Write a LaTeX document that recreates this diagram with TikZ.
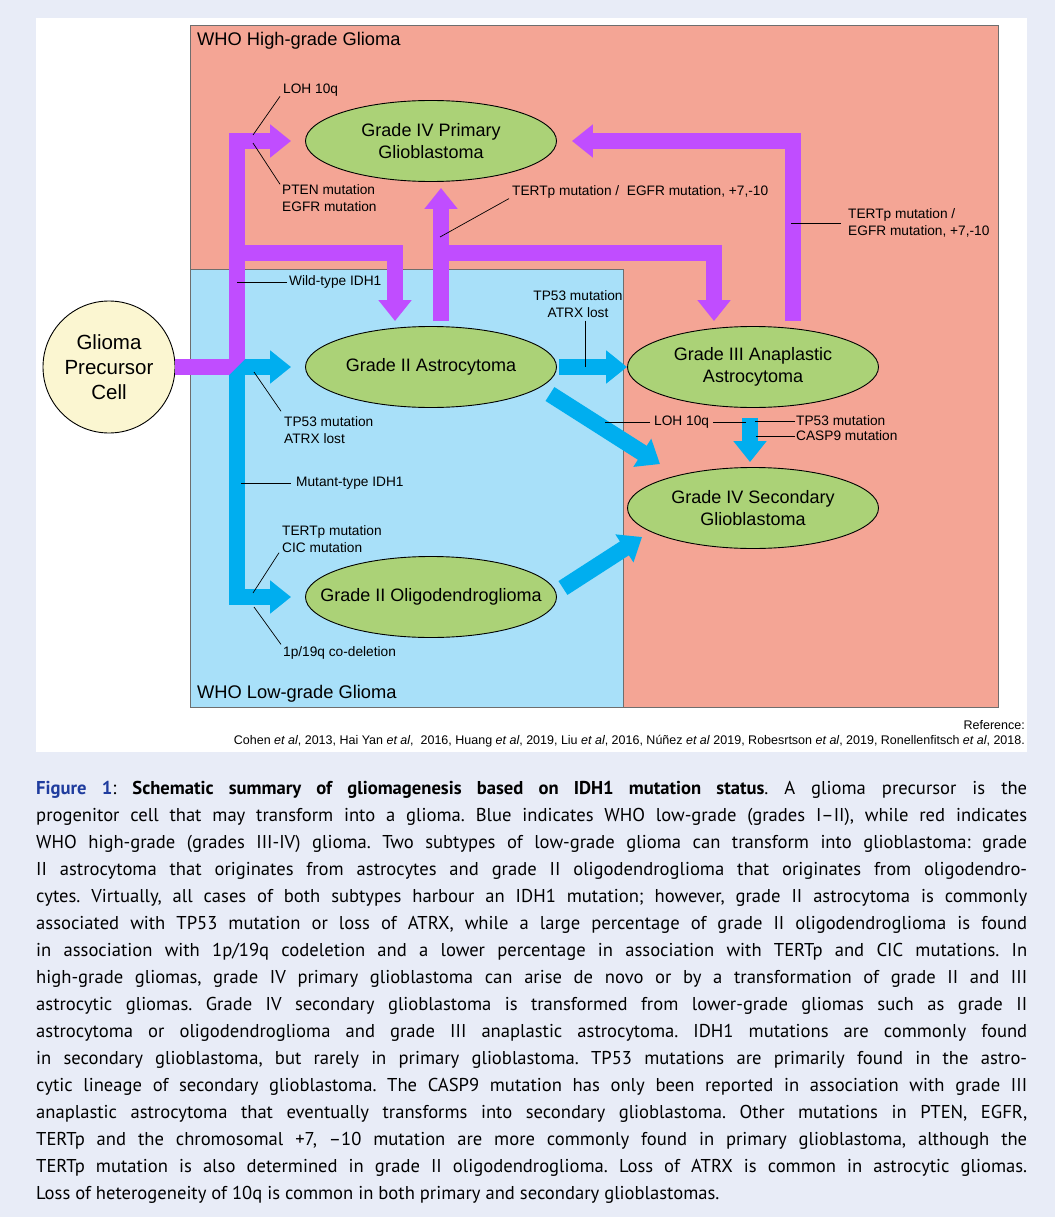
\documentclass[tikz,border=0pt]{standalone}
\usepackage{fontspec}
\setmainfont{Liberation Sans}
\newfontfamily\capfont{PT Sans}
\usepackage{xcolor}
\usetikzlibrary{arrows.meta,shapes.geometric,positioning}

\definecolor{pagebg}{HTML}{E8ECF7}
\definecolor{highred}{HTML}{F4A595}
\definecolor{lowblue}{HTML}{A8E0F9}
\definecolor{tumourgreen}{HTML}{ABD277}
\definecolor{cellyellow}{HTML}{FBF6D1}
\definecolor{wildpurple}{HTML}{C04DFF}
\definecolor{mutblue}{HTML}{00AEEF}
\definecolor{figblue}{HTML}{1F3C9E}
\definecolor{zoneline}{HTML}{6E6E6E}

\begin{document}
\frenchspacing
\begin{tikzpicture}[x=1pt, y=-1pt, on grid,
  zone/.style={draw=zoneline, line width=1pt},
  tumour/.style={ellipse, draw, line width=0.9pt, fill=tumourgreen, minimum width=251pt, minimum height=81pt,
    inner xsep=-50pt, inner ysep=0pt, align=center, font=\fontsize{18}{22.5}\selectfont},
  note/.style={inner sep=0pt, align=left, font=\fontsize{13.7}{17}\selectfont},
  leader/.style={draw, line width=0.7pt},
  wild/.style={draw=wildpurple, line width=16.5pt, -{Triangle[length=21pt,width=32pt]}},
  mutant/.style={draw=mutblue, line width=16.5pt, -{Triangle[length=21pt,width=32pt]}}]
\useasboundingbox (0,0) rectangle (1055,1217);
\fill[pagebg] (0,0) rectangle (1055,1217);
\fill[white] (36,18) rectangle (1027,752);

\filldraw[zone, fill=highred] (190,26) rectangle (998,707);
\filldraw[zone, fill=lowblue] (190,269) rectangle (623,707);
\node[anchor=west, inner sep=0pt, font=\fontsize{18.3}{22}\selectfont] (highlabel) at (197,41) {WHO High-grade Glioma};
\node[anchor=west, inner sep=0pt, font=\fontsize{18.3}{22}\selectfont] (lowlabel) at (197,694) {WHO Low-grade Glioma};

\node[tumour] (astro) at (431,367) {Grade II Astrocytoma};
\node[tumour] (primary)    [above=226pt of astro]      {Grade IV Primary\\Glioblastoma};
\node[tumour] (oligo)      [below=230pt of astro]      {Grade II Oligodendroglioma};
\node[tumour] (anaplastic) [right=322pt of astro]      {Grade III Anaplastic\\Astrocytoma};
\node[tumour] (secondary)  [below=141pt of anaplastic] {Grade IV Secondary\\Glioblastoma};
\node[circle, draw, line width=0.9pt, fill=cellyellow, minimum size=132pt, inner sep=0pt, align=center,
  font=\fontsize{20.5}{25}\selectfont] (precursor) [left=322pt of astro] {Glioma\\Precursor\\Cell};

\coordinate (split)     at (237,367);
\coordinate (forkleft)  at (237,253);
\coordinate (forkright) at (441,253);

\draw[wild] (precursor.east) -- (split) |- ([xshift=-14pt]primary.west);
\draw[wild] (forkleft) -| ([xshift=-36pt,yshift=5pt]astro.north);
\draw[wild] ([xshift=10pt,yshift=5pt]astro.north) -- ([xshift=10pt,yshift=-6pt]primary.south);
\draw[wild] (forkright) -| ([xshift=-39pt,yshift=5pt]anaplastic.north);
\draw[wild] ([xshift=40pt,yshift=5pt]anaplastic.north) |- ([xshift=15pt]primary.east);

\draw[mutant] (split) -- ([xshift=-14pt]astro.west);
\draw[mutant] (split) |- ([xshift=-14pt]oligo.west);
\fill[wildpurple] ([shift={(-8.25,-8.25)}]split) -- ++(16.5,0) -- ++(-16.5,16.5) -- cycle;
\draw[mutant] ([xshift=2pt]astro.east) -- (anaplastic.west);
\draw[mutant] ([xshift=-7pt,yshift=-27pt]astro.east) -- ([xshift=-93pt,yshift=3pt]secondary.north);
\draw[mutant] ([xshift=6pt,yshift=9pt]oligo.east) -- ([xshift=15pt,yshift=-29pt]secondary.west);
\draw[mutant] ([xshift=-3pt,yshift=-10pt]anaplastic.south) -- ([xshift=-3pt,yshift=5pt]secondary.north);

\coordinate (lohprimaryend)     at (253,135);
\coordinate (ptenegfrend)       at (253,143);
\coordinate (tertprimaryend)    at (440,237);
\coordinate (tertanaplasticend) at (791,223);
\coordinate (wildtypeend)       at (237,282);
\coordinate (tp53astroend)      at (585,367);
\coordinate (tp53splitend)      at (254,372);
\coordinate (mutanttypeend)     at (241,483);
\coordinate (tertcicend)        at (253,593);
\coordinate (codeletionend)     at (254,607);
\coordinate (lohleftend)        at (605,422);
\coordinate (lohrightend)       at (746,422);
\coordinate (tp53anaend)        at (755,421);
\coordinate (casp9end)          at (756,436);

\node[note, anchor=west] (lohprimary) at (283,90) {LOH 10q};
\node[note, anchor=west] (ptenegfr) at (282,198) {PTEN mutation\\EGFR mutation};
\node[note, anchor=west] (tertprimary) at (512,192) {TERTp mutation /\ \ EGFR mutation, +7,-10};
\node[note, anchor=west] (tertanaplastic) at (848,223) {TERTp mutation /\\EGFR mutation, +7,-10};
\node[note, anchor=west] (wildtype) at (289,282) {Wild-type IDH1};
\node[note, align=center] (tp53astro) at (578,304) {TP53 mutation\\ATRX lost};
\node[note, anchor=west] (tp53split) at (284,430) {TP53 mutation\\ATRX lost};
\node[note, anchor=west] (mutanttype) at (296,483) {Mutant-type IDH1};
\node[note, anchor=west] (tertcic) at (282,539) {TERTp mutation\\CIC mutation};
\node[note, anchor=west] (codeletion) at (283,653) {1p/19q co-deletion};
\node[note, anchor=west] (lohsecondary) at (654,422) {LOH 10q};
\node[note, anchor=west] (tp53anaplastic) at (796,421) {TP53 mutation};
\node[note, anchor=west] (casp9) at (796,436) {CASP9 mutation};

\draw[leader] ([xshift=-3pt]lohprimary.south west) -- (lohprimaryend);
\draw[leader] ([xshift=-2pt]ptenegfr.north west) -- (ptenegfrend);
\draw[leader] ([xshift=-3pt]tertprimary.south west) -- (tertprimaryend);
\draw[leader] ([xshift=-7pt]tertanaplastic.west) -- (tertanaplasticend);
\draw[leader] ([xshift=-2pt]wildtype.west) -- (wildtypeend);
\draw[leader] ([xshift=7pt,yshift=-3pt]tp53astro.south) -- (tp53astroend);
\draw[leader] ([xshift=-3pt,yshift=5pt]tp53split.north west) -- (tp53splitend);
\draw[leader] ([xshift=-5pt]mutanttype.west) -- (mutanttypeend);
\draw[leader] ([xshift=-3pt]tertcic.south west) -- (tertcicend);
\draw[leader] ([xshift=-2pt,yshift=2pt]codeletion.north west) -- (codeletionend);
\draw[leader] ([xshift=-4pt]lohsecondary.west) -- (lohleftend);
\draw[leader] ([xshift=4pt]lohsecondary.east) -- (lohrightend);
\draw[leader] ([xshift=-1pt]tp53anaplastic.west) -- (tp53anaend);
\draw[leader] ([xshift=-1pt]casp9.west) -- (casp9end);

\node[anchor=east, inner sep=0pt, font=\fontsize{12.5}{13}\selectfont] (refhead) at (1025,725) {Reference:};
\node[anchor=east, inner sep=0pt, font=\fontsize{12.5}{13}\selectfont] (reflist) at (1025,741)
  {Cohen \textit{et al}, 2013, Hai Yan \textit{et al},\ \ 2016, Huang \textit{et al}, 2019, Liu \textit{et al}, 2016, Núñez \textit{et al} 2019, Robesrtson \textit{et al}, 2019, Ronellenfitsch \textit{et al}, 2018.};

\node[anchor=north west, inner sep=0pt, text width=991pt, align=justify, font=\capfont\fontsize{18.6}{27}\selectfont] (caption) at (36,781)
  {\textbf{\color{figblue}Figure 1}: \textbf{Schematic summary of gliomagenesis based on IDH1 mutation status}. A glioma precursor is the\linebreak
  progenitor cell that may transform into a glioma. Blue indicates WHO low-grade (grades I–II), while red indicates\linebreak
  WHO high-grade (grades III-IV) glioma. Two subtypes of low-grade glioma can transform into glioblastoma: grade\linebreak
  II astrocytoma that originates from astrocytes and grade II oligodendroglioma that originates from oligodendro-\linebreak
  cytes. Virtually, all cases of both subtypes harbour an IDH1 mutation; however, grade II astrocytoma is commonly\linebreak
  associated with TP53 mutation or loss of ATRX, while a large percentage of grade II oligodendroglioma is found\linebreak
  in association with 1p/19q codeletion and a lower percentage in association with TERTp and CIC mutations. In\linebreak
  high-grade gliomas, grade IV primary glioblastoma can arise de novo or by a transformation of grade II and III\linebreak
  astrocytic gliomas. Grade IV secondary glioblastoma is transformed from lower-grade gliomas such as grade II\linebreak
  astrocytoma or oligodendroglioma and grade III anaplastic astrocytoma. IDH1 mutations are commonly found\linebreak
  in secondary glioblastoma, but rarely in primary glioblastoma. TP53 mutations are primarily found in the astro-\linebreak
  cytic lineage of secondary glioblastoma. The CASP9 mutation has only been reported in association with grade III\linebreak
  anaplastic astrocytoma that eventually transforms into secondary glioblastoma. Other mutations in PTEN, EGFR,\linebreak
  TERTp and the chromosomal +7, –10 mutation are more commonly found in primary glioblastoma, although the\linebreak
  TERTp mutation is also determined in grade II oligodendroglioma. Loss of ATRX is common in astrocytic gliomas.\linebreak
  Loss of heterogeneity of 10q is common in both primary and secondary glioblastomas.};
\end{tikzpicture}
\end{document}
